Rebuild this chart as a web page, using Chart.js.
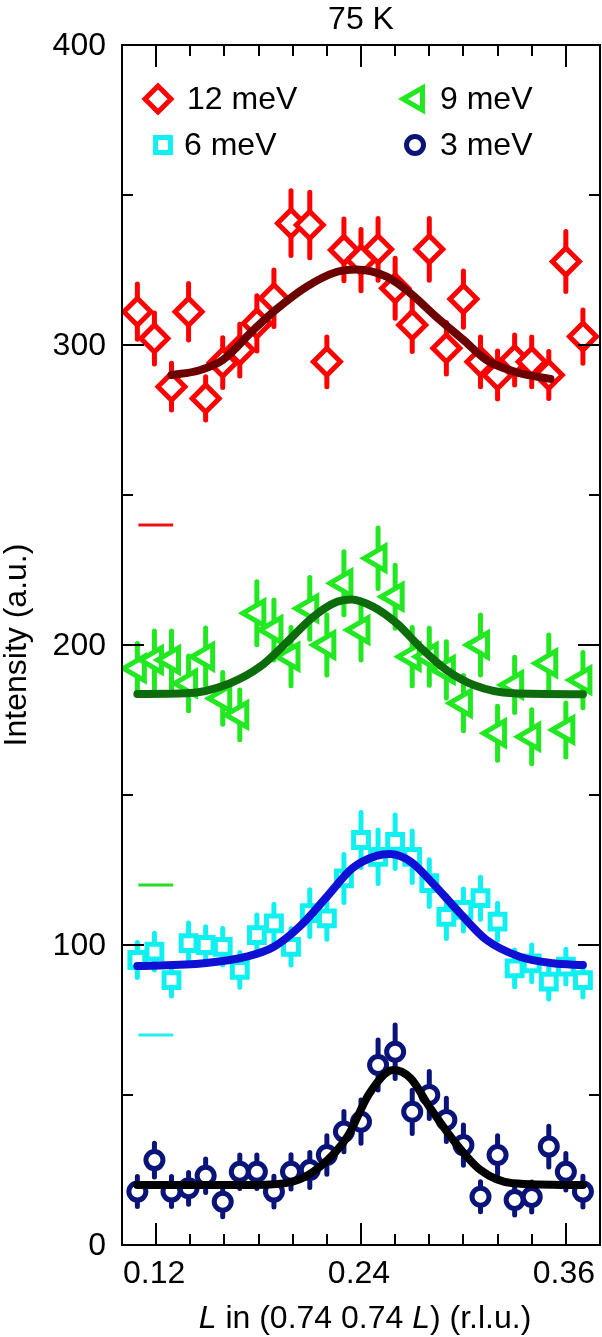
<!DOCTYPE html>
<html>
<head>
<meta charset="utf-8">
<title>75 K</title>
<script src="https://cdn.jsdelivr.net/npm/chart.js@4.4.1/dist/chart.umd.min.js"></script>
<style>
  html, body { margin: 0; padding: 0; background: #fff; }
  canvas { display: block; }
</style>
</head>
<body>
<canvas id="chart" width="602" height="1337"></canvas>
<script>
// L positions shared by every energy scan
const momentumL = [0.109, 0.119, 0.129, 0.139, 0.149, 0.159, 0.169, 0.179, 0.189, 0.199,
    0.210, 0.220, 0.230, 0.240, 0.250, 0.260, 0.270, 0.280, 0.290, 0.300,
    0.310, 0.320, 0.330, 0.340, 0.350, 0.360, 0.370];

// Measured intensity (offset per energy) and error bars
const int12 = [311.1, 302.2, 286.1, 311.1, 282.2, 294.1, 298.3, 307.2, 315.6, 340.6,
    340.0, 294.4, 331.7, 328.3, 331.9, 318.9, 306.7, 331.9, 298.9, 315.3,
    294.4, 290.0, 295.0, 294.4, 290.0, 327.8, 302.8];
const err12 = [9.2, 8.5, 7.8, 9.4, 7.2, 8.3, 8.6, 9.2, 9.4, 10.8,
    10.9, 8.3, 10.3, 10.2, 10.3, 10.0, 8.9, 10.3, 8.6, 9.4,
    8.3, 8.0, 8.3, 8.3, 7.8, 10.0, 8.9];

const int9 = [192.2, 195.0, 195.0, 187.2, 196.1, 182.2, 176.7, 210.6, 205.0, 196.1,
    212.2, 200.0, 220.6, 205.0, 228.9, 216.1, 196.1, 196.1, 191.7, 180.6,
    200.0, 170.6, 186.7, 169.4, 193.9, 171.7, 188.3];
const err9 = [8.3, 9.7, 9.7, 9.1, 9.6, 8.6, 8.3, 10.5, 10.0, 9.7,
    10.3, 10.0, 10.5, 10.0, 10.1, 10.5, 9.7, 9.5, 9.4, 9.2,
    10.0, 9.0, 9.2, 9.0, 9.4, 9.0, 9.2];

const int6 = [95.0, 97.8, 88.3, 100.6, 100.0, 99.4, 91.7, 103.3, 107.2, 99.4,
    110.6, 108.9, 122.2, 135.0, 129.4, 134.4, 129.4, 120.6, 109.4, 111.7,
    115.6, 107.8, 92.2, 93.9, 87.8, 92.8, 88.3];
const err6 = [5.8, 6.1, 5.3, 6.7, 6.1, 6.1, 5.8, 6.7, 6.4, 6.1,
    7.8, 7.0, 8.0, 9.2, 8.9, 8.9, 8.6, 7.8, 7.2, 7.0,
    7.0, 6.1, 6.1, 6.1, 5.8, 5.8, 5.6];

const int3 = [17.8, 28.3, 17.8, 18.9, 23.1, 14.4, 24.4, 24.4, 17.8, 24.4,
    25.0, 30.0, 37.8, 41.1, 60.0, 64.4, 44.4, 50.0, 41.7, 33.3,
    16.1, 30.0, 15.0, 16.0, 32.8, 24.4, 17.8];
const err3 = [5.0, 5.6, 5.0, 5.3, 5.6, 5.0, 5.6, 5.6, 5.1, 5.7,
    5.8, 6.4, 6.7, 7.2, 8.3, 8.9, 7.2, 7.8, 7.2, 6.7,
    5.0, 6.4, 5.0, 5.0, 6.8, 6.1, 5.1];

// Fit curves as (L, intensity) pairs
const fit12L = [0.129, 0.145, 0.159, 0.177, 0.190, 0.208, 0.226, 0.237, 0.255, 0.269, 0.284, 0.300, 0.3135, 0.333, 0.351];
const fit12Y = [290.0, 291.5, 295.0, 305.0, 311.7, 319.4, 324.4, 325.2, 322.8, 317.2, 309.4, 301.7, 295.0, 290.6, 288.7];

const fit9L = [0.109, 0.138, 0.163, 0.181, 0.196, 0.212, 0.226, 0.2345, 0.247, 0.261, 0.2745, 0.290, 0.306, 0.329, 0.370];
const fit9Y = [183.7, 183.9, 187.2, 192.8, 200.6, 209.4, 214.4, 215.2, 212.8, 207.2, 199.4, 191.7, 186.7, 183.9, 183.6];

const fit6L = [0.109, 0.148, 0.173, 0.189, 0.204, 0.220, 0.235, 0.249, 0.257, 0.269, 0.282, 0.298, 0.3135, 0.333, 0.3525, 0.370];
const fit6Y = [93.0, 93.9, 96.1, 99.4, 106.1, 116.1, 125.6, 129.7, 130.3, 127.8, 120.6, 110.6, 101.7, 96.1, 93.9, 93.3];

const fit3L = [0.109, 0.177, 0.200, 0.216, 0.232, 0.245, 0.259, 0.269, 0.280, 0.294, 0.310, 0.329, 0.370];
const fit3Y = [20.0, 20.0, 21.1, 26.1, 36.1, 50.6, 58.3, 55.6, 46.1, 35.0, 25.0, 20.6, 20.0];

// Short offset marks near the left axis
const offsetMarkL = [0.1096, 0.130];
const offsetMarkY = [240, 120, 70];

// Axis ticks
const xTicks = [0.12, 0.14, 0.16, 0.18, 0.20, 0.22, 0.24, 0.26, 0.28, 0.30, 0.32, 0.34, 0.36];
const xTickLabels = ['0.12', '0.24', '0.36'];
const yTicks = [0, 50, 100, 150, 200, 250, 300, 350, 400];
const yTickLabels = ['0', '100', '200', '300', '400'];

const FONT = '"Liberation Sans", Arial, Helvetica, sans-serif';

const COLORS = {
    e12: '#ff0000', fit12: '#6c0000',
    e9: '#22e822', fit9: '#0c6c0c',
    e6: '#10f0f0', fit6: '#1010d4',
    e3: '#0a1478', fit3: '#000000'
};

const points = (xs, ys) => xs.map((x, i) => ({ x: x, y: ys[i] }));

// Data set with hollow markers and error bars
function scanDataset(label, ys, errs, color, style, radius, rotation, width) {
    return {
        label: label,
        data: points(momentumL, ys),
        errors: errs,
        errorWidth: width,
        showLine: false,
        borderColor: color,
        pointStyle: style,
        pointRadius: radius,
        pointRotation: rotation,
        pointBorderColor: color,
        pointBackgroundColor: '#ffffff',
        pointBorderWidth: width,
        order: 1
    };
}

function fitDataset(xs, ys, color) {
    return {
        data: points(xs, ys),
        showLine: true,
        borderColor: color,
        borderWidth: 8,
        borderCapStyle: 'round',
        pointRadius: 0,
        cubicInterpolationMode: 'monotone',
        order: 0
    };
}

function markDataset(yVal, color) {
    return {
        data: offsetMarkL.map(x => ({ x: x, y: yVal })),
        showLine: true,
        borderColor: color,
        borderWidth: 3,
        pointRadius: 0,
        order: 2
    };
}

// Draw vertical error bars just before each scan's markers
const errorBars = {
    id: 'errorBars',
    beforeDatasetDraw(chart, args) {
        const ds = chart.data.datasets[args.index];
        if (!ds.errors) return;
        const { ctx, chartArea: a, scales: { x, y } } = chart;
        ctx.save();
        ctx.beginPath();
        ctx.rect(a.left, a.top, a.right - a.left, a.bottom - a.top);
        ctx.clip();
        ctx.strokeStyle = ds.borderColor;
        ctx.lineWidth = ds.errorWidth;
        ctx.lineCap = 'round';
        ctx.beginPath();
        ds.data.forEach((p, i) => {
            const px = x.getPixelForValue(p.x);
            ctx.moveTo(px, y.getPixelForValue(p.y - ds.errors[i]));
            ctx.lineTo(px, y.getPixelForValue(p.y + ds.errors[i]));
        });
        ctx.stroke();
        ctx.restore();
    }
};

// Box frame, inward ticks on all sides, labels and titles
const frameAxes = {
    id: 'frameAxes',
    afterDatasetsDraw(chart) {
        const { ctx, chartArea: a, scales: { x, y } } = chart;
        ctx.save();
        ctx.strokeStyle = '#000';
        ctx.lineWidth = 2;
        ctx.strokeRect(a.left, a.top, a.right - a.left, a.bottom - a.top);

        ctx.beginPath();
        xTicks.forEach(v => {
            const px = Math.round(x.getPixelForValue(v));
            const len = xTickLabels.includes(v.toFixed(2)) ? 22 : 11;
            ctx.moveTo(px, a.bottom); ctx.lineTo(px, a.bottom - len);
            ctx.moveTo(px, a.top); ctx.lineTo(px, a.top + len);
        });
        yTicks.forEach(v => {
            const py = Math.round(y.getPixelForValue(v));
            const len = yTickLabels.includes(String(v)) ? 22 : 11;
            ctx.moveTo(a.left, py); ctx.lineTo(a.left + len, py);
            ctx.moveTo(a.right, py); ctx.lineTo(a.right - len, py);
        });
        ctx.stroke();

        ctx.fillStyle = '#000';
        ctx.font = '32px ' + FONT;
        ctx.textAlign = 'center';
        ctx.textBaseline = 'alphabetic';
        xTickLabels.forEach(t => {
            ctx.fillText(t, x.getPixelForValue(parseFloat(t)) - 2, 1283);
        });
        ctx.textAlign = 'right';
        ctx.textBaseline = 'middle';
        yTickLabels.forEach(t => {
            ctx.fillText(t, a.left - 16, y.getPixelForValue(parseFloat(t)) + 1);
        });

        // title
        ctx.textAlign = 'center';
        ctx.textBaseline = 'alphabetic';
        ctx.fillText('75 K', (a.left + a.right) / 2, 29);

        // x title with italic L
        const parts = [['L', true], [' in (0.74 0.74 ', false], ['L', true], [') (r.l.u.)', false]];
        let total = 0;
        parts.forEach(p => {
            ctx.font = (p[1] ? 'italic ' : '') + '32px ' + FONT;
            total += ctx.measureText(p[0]).width;
        });
        let cx = (a.left + a.right) / 2 + 4 - total / 2;
        ctx.textAlign = 'left';
        parts.forEach(p => {
            ctx.font = (p[1] ? 'italic ' : '') + '32px ' + FONT;
            ctx.fillText(p[0], cx, 1328);
            cx += ctx.measureText(p[0]).width;
        });

        // y title
        ctx.font = '32px ' + FONT;
        ctx.translate(26, (a.top + a.bottom) / 2);
        ctx.rotate(-Math.PI / 2);
        ctx.textAlign = 'center';
        ctx.fillText('Intensity (a.u.)', 0, 0);
        ctx.restore();
    }
};

// Two-column legend inside the plot
const legendItems = [
    { text: '12 meV', style: 'rectRot', radius: 13, rotation: 0, color: COLORS.e12, mx: 158, tx: 187, y: 99 },
    { text: '9 meV', style: 'triangle', radius: 13, rotation: 270, color: COLORS.e9, mx: 416, tx: 440, y: 99 },
    { text: '6 meV', style: 'rect', radius: 10.5, rotation: 0, color: COLORS.e6, mx: 163, tx: 184, y: 145 },
    { text: '3 meV', style: 'circle', radius: 8.5, rotation: 0, color: COLORS.e3, mx: 415, tx: 440, y: 145 }
];

const insideLegend = {
    id: 'insideLegend',
    afterDraw(chart) {
        const ctx = chart.ctx;
        ctx.save();
        legendItems.forEach(item => {
            ctx.fillStyle = '#fff';
            ctx.strokeStyle = item.color;
            ctx.lineWidth = 5;
            if (Chart.helpers && Chart.helpers.drawPoint) {
                Chart.helpers.drawPoint(ctx, {
                    pointStyle: item.style, radius: item.radius,
                    rotation: item.rotation, borderWidth: 5
                }, item.mx, item.y);
            }
            ctx.fillStyle = '#000';
            ctx.font = '32px ' + FONT;
            ctx.textAlign = 'left';
            ctx.textBaseline = 'middle';
            ctx.fillText(item.text, item.tx, item.y + 1);
        });
        ctx.restore();
    }
};

const ctx = document.getElementById('chart').getContext('2d');
new Chart(ctx, {
    type: 'scatter',
    data: {
        datasets: [
            fitDataset(fit12L, fit12Y, COLORS.fit12),
            fitDataset(fit9L, fit9Y, COLORS.fit9),
            fitDataset(fit6L, fit6Y, COLORS.fit6),
            fitDataset(fit3L, fit3Y, COLORS.fit3),
            scanDataset('12 meV', int12, err12, COLORS.e12, 'rectRot', 13.5, 0, 5),
            scanDataset('9 meV', int9, err9, COLORS.e9, 'triangle', 14, 270, 5),
            scanDataset('6 meV', int6, err6, COLORS.e6, 'rect', 10.5, 0, 5),
            scanDataset('3 meV', int3, err3, COLORS.e3, 'circle', 8.5, 0, 5),
            markDataset(offsetMarkY[0], '#ee1111'),
            markDataset(offsetMarkY[1], '#22dd22'),
            markDataset(offsetMarkY[2], '#22eeee')
        ]
    },
    options: {
        responsive: false,
        animation: false,
        devicePixelRatio: 1,
        events: [],
        layout: {
            autoPadding: false,
            padding: { left: 122, right: 2, top: 45, bottom: 92 }
        },
        plugins: {
            legend: { display: false },
            tooltip: { enabled: false }
        },
        scales: {
            x: { type: 'linear', min: 0.10, max: 0.38, display: false },
            y: { type: 'linear', min: 0, max: 400, display: false }
        }
    },
    plugins: [errorBars, frameAxes, insideLegend]
});
</script>
</body>
</html>
